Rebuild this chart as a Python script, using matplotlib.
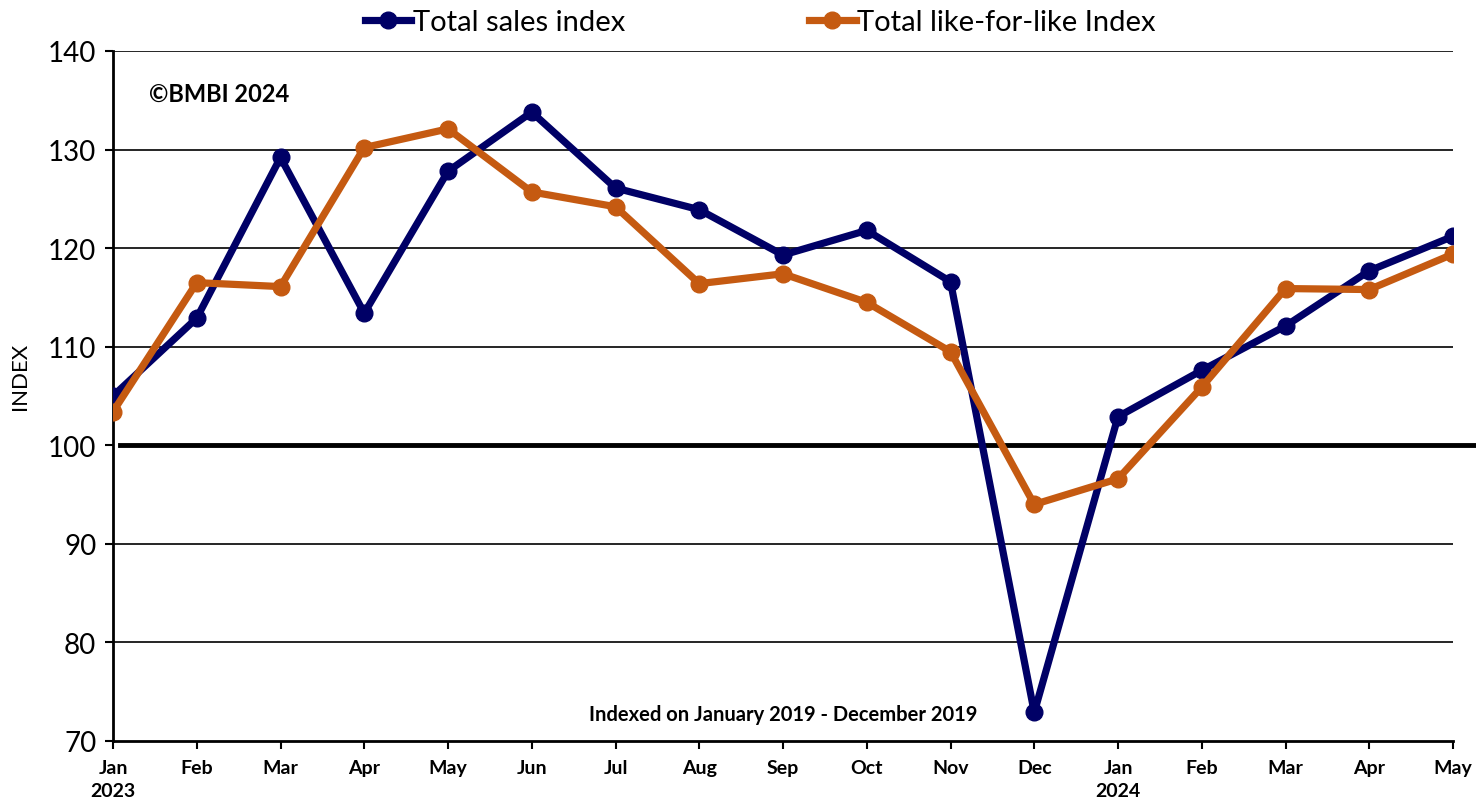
import numpy as np
import matplotlib
matplotlib.use("Agg")
from matplotlib import pyplot as plt

plt.rcParams['font.family'] = ['Lato', 'DejaVu Sans']

months = ['Jan\n2023', 'Feb', 'Mar', 'Apr', 'May', 'Jun', 'Jul', 'Aug', 'Sep', 'Oct', 'Nov', 'Dec',
          'Jan\n2024', 'Feb', 'Mar', 'Apr', 'May']
total_sales = [105.0, 112.9, 129.2, 113.4, 127.8, 133.8, 126.1, 123.9, 119.3, 121.8, 116.6, 72.9,
               102.9, 107.6, 112.1, 117.7, 121.2]
total_lfl = [103.4, 116.5, 116.1, 130.2, 132.1, 125.7, 124.2, 116.4, 117.4, 114.5, 109.5, 94.0,
             96.6, 105.9, 115.9, 115.8, 119.4]

navy = '#000066'
orange = '#C55A11'

fig = plt.figure(figsize=(14.76, 8.04), dpi=100)
ax = fig.add_axes([113 / 1476, 1 - 742 / 804, (1453 - 113) / 1476, (742 - 52) / 804])

x = np.arange(len(months))
for yv in [80, 90, 110, 120, 130, 140]:
    ax.axhline(yv, color='black', lw=1.2, zorder=1)
ax.plot([0.08, len(months) - 1 + 0.3], [100, 100], color='black', lw=3.5, zorder=2, clip_on=False)

ax.plot(x, total_sales, color=navy, lw=5.2, marker='o', ms=12, label='Total sales index', zorder=3)
ax.plot(x, total_lfl, color=orange, lw=5.2, marker='o', ms=12, label='Total like-for-like Index', zorder=4)

ax.set_xlim(0, len(months) - 1)
ax.set_ylim(70, 140)
ax.set_yticks(range(70, 141, 10))
ax.set_xticks(x)
ax.set_xticklabels(months, fontsize=14, fontweight='bold', linespacing=1.45)
ax.tick_params(axis='y', labelsize=20, length=6, width=1.5, pad=6)
ax.tick_params(axis='x', length=6, width=1.5, pad=7)
for s in ['top', 'right']:
    ax.spines[s].set_visible(False)
for s in ['left', 'bottom']:
    ax.spines[s].set_linewidth(2)
ax.set_ylabel('INDEX', fontsize=16)
ax.yaxis.set_label_coords(-0.062, 0.53)

ax.text(0.027, 0.955, '©BMBI 2024', transform=ax.transAxes, fontsize=17, fontweight='bold', va='top')
ax.text(0.5, 0.03, 'Indexed on January 2019 - December 2019', transform=ax.transAxes,
        fontsize=14.5, fontweight='bold', ha='center')

fig.legend(loc='upper center', bbox_to_anchor=(0.515, 1.02), ncol=2, frameon=False,
           fontsize=21, handlelength=1.6, handletextpad=0.05, columnspacing=6.3)

plt.savefig('out.png', dpi=100)
